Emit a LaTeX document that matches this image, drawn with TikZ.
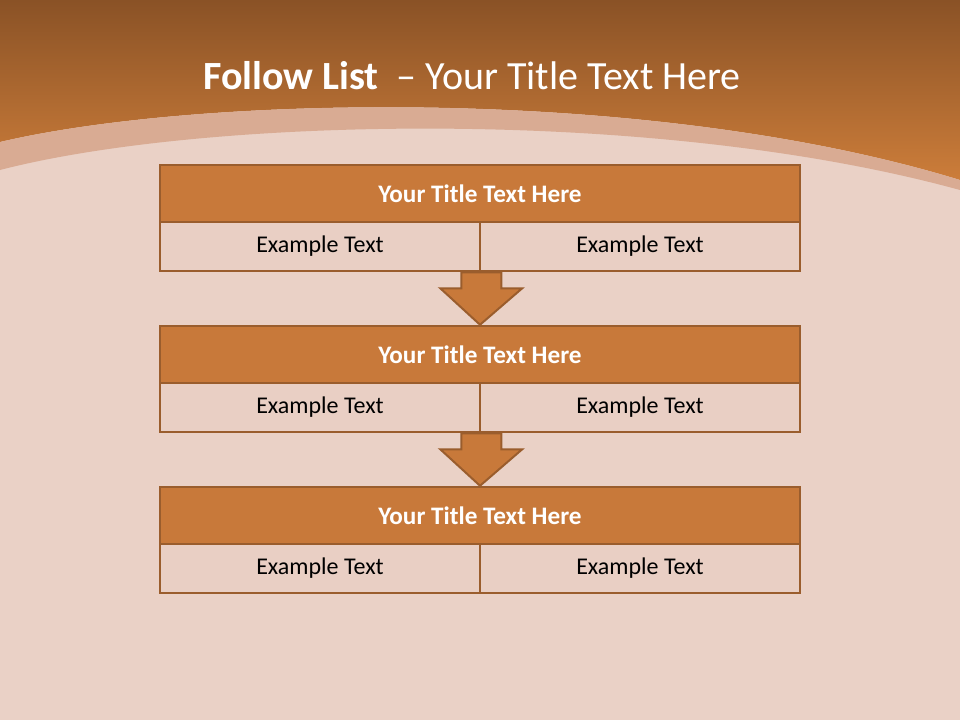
\documentclass[tikz,border=0pt]{standalone}
\usepackage{fontspec}
\setmainfont{Carlito}
\usetikzlibrary{calc}
\definecolor{slidebg}{HTML}{EAD1C6}
\definecolor{hdrtop}{HTML}{8A5226}
\definecolor{hdrbot}{HTML}{CC7D3A}
\definecolor{bandpink}{HTML}{D9AB93}
\definecolor{boxbrown}{HTML}{C8793A}
\definecolor{edgebrown}{HTML}{9A5D2D}
\definecolor{cellpink}{HTML}{E9CFC4}

\begin{document}
\begin{tikzpicture}[x=1pt,y=-1pt]
\useasboundingbox (0,0) rectangle (960,720);
\fill[slidebg] (0,0) rectangle (960,720);
% header band and arc
\shade[top color=hdrtop, bottom color=hdrbot] (0,0) -- (960,0) -- (960,180)
  .. controls (650,85) and (200,95) .. (0,142) -- cycle;
\fill[bandpink] (0,142) .. controls (200,95) and (650,85) .. (960,180)
  -- (960,190) .. controls (650,105) and (200,118) .. (0,170) -- cycle;
\node[text=white, font=\fontsize{40}{48}\selectfont] (head) at (472,76)
  {\textbf{Follow List}~~– Your Title Text Here};
 \begin{scope}[every node/.style={draw=edgebrown, line width=2.5pt, fill=boxbrown,
     text=white, font=\bfseries\fontsize{25.2}{30}\selectfont,
     minimum width=640, minimum height=57, inner sep=0pt}]
  \node (t1) at (480,193.5) {Your Title Text Here};
  \node (t2) at (480,354.5) {Your Title Text Here};
  \node (t3) at (480,515.5) {Your Title Text Here};
 \end{scope}
 \begin{scope}[every node/.style={draw=edgebrown, line width=2.5pt, fill=cellpink,
     text=black, font=\fontsize{24}{29}\selectfont,
     minimum width=320, minimum height=49, inner sep=0pt}]
  \node (l1) at (320,246.5) {Example Text};
  \node (r1) at (640,246.5) {Example Text};
  \node (l2) at (320,407.5) {Example Text};
  \node (r2) at (640,407.5) {Example Text};
  \node (l3) at (320,568.5) {Example Text};
  \node (r3) at (640,568.5) {Example Text};
 \end{scope}
 \begin{scope}[every path/.style={draw=edgebrown, line width=2pt, fill=boxbrown,
     line join=miter}]
  \path ($(l1.south east)+(-20,0)$) -- ($(l1.south east)+(-20,16)$)
    -- ($(l1.south east)+(-41,16)$) -- (t1.south |- t2.north)
    -- ($(l1.south east)+(41,16)$) -- ($(l1.south east)+(20,16)$)
    -- ($(l1.south east)+(20,0)$) -- cycle;
  \path ($(l2.south east)+(-20,0)$) -- ($(l2.south east)+(-20,16)$)
    -- ($(l2.south east)+(-41,16)$) -- (t2.south |- t3.north)
    -- ($(l2.south east)+(41,16)$) -- ($(l2.south east)+(20,16)$)
    -- ($(l2.south east)+(20,0)$) -- cycle;
 \end{scope}
\end{tikzpicture}
\end{document}
